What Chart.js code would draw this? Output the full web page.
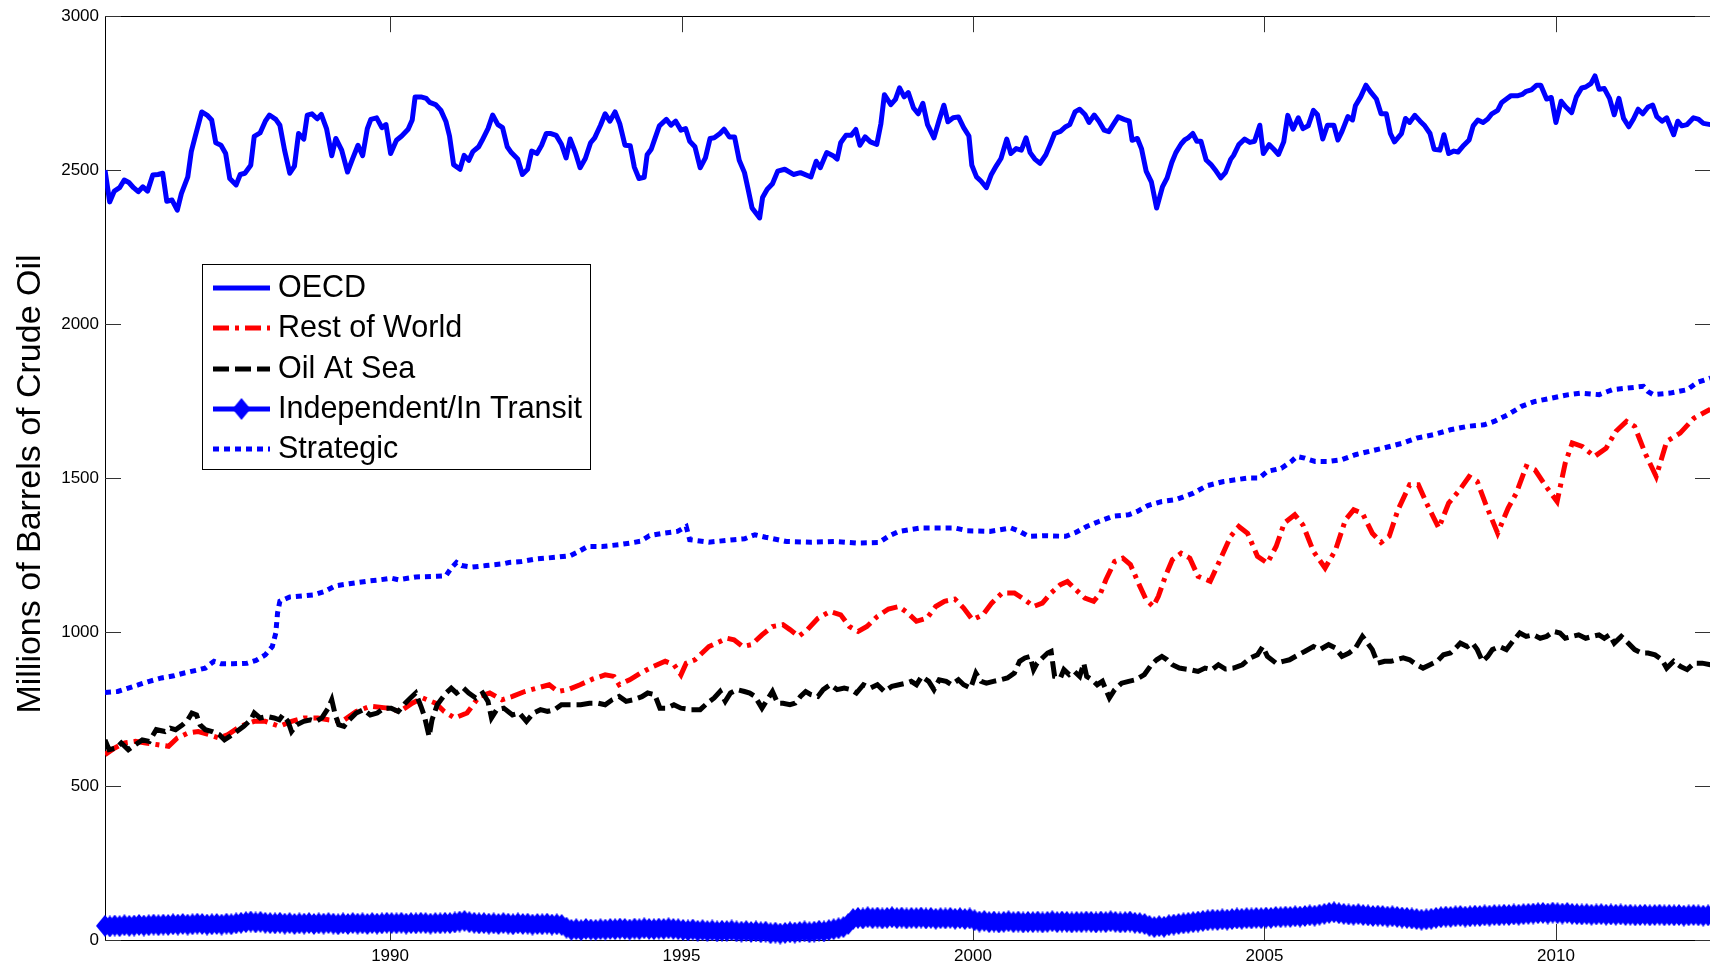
<!DOCTYPE html>
<html>
<head>
<meta charset="utf-8">
<title>Crude oil stocks</title>
<script src="https://cdn.jsdelivr.net/npm/chart.js@4.4.0/dist/chart.umd.min.js"></script>
<style>
  html, body { margin: 0; padding: 0; background: #fff; overflow: hidden; }
  #stocksChart { display: block; }
</style>
</head>
<body>
<canvas id="stocksChart" width="1712" height="969"></canvas>
<script>
const FONT = '"Liberation Sans", Arial, Helvetica, sans-serif';

// axis setup
const yearTicks = [1990, 1995, 2000, 2005, 2010];
const xMin = 1985.11, xMax = 2012.66;
const yMin = 0, yMax = 3000, yStep = 500;
const tickLen = 16;
const yTitle = 'Millions of Barrels of Crude Oil';

// OECD commercial stocks (decimal year, million barrels)
const oecdYears = [
  1985.11,1985.19,1985.27,1985.36,1985.44,1985.52,1985.60,1985.68,1985.76,1985.84,
  1985.93,1986.02,1986.10,1986.17,1986.26,1986.35,1986.42,1986.53,1986.59,1986.66,
  1986.77,1986.86,1986.94,1987.01,1987.10,1987.18,1987.25,1987.36,1987.43,1987.51,
  1987.61,1987.67,1987.77,1987.86,1987.93,1988.04,1988.11,1988.19,1988.28,1988.36,
  1988.43,1988.52,1988.58,1988.66,1988.75,1988.82,1988.91,1989.00,1989.07,1989.17,
  1989.27,1989.36,1989.45,1989.53,1989.61,1989.67,1989.77,1989.86,1989.93,1990.01,
  1990.11,1990.20,1990.31,1990.38,1990.43,1990.53,1990.62,1990.68,1990.78,1990.87,
  1990.96,1991.02,1991.09,1991.20,1991.27,1991.35,1991.42,1991.52,1991.58,1991.68,
  1991.76,1991.85,1991.93,1992.01,1992.08,1992.19,1992.27,1992.36,1992.43,1992.52,
  1992.60,1992.68,1992.76,1992.85,1992.94,1993.02,1993.09,1993.18,1993.26,1993.35,
  1993.44,1993.51,1993.61,1993.69,1993.77,1993.86,1993.94,1994.03,1994.12,1994.19,
  1994.27,1994.36,1994.41,1994.48,1994.54,1994.62,1994.74,1994.82,1994.90,1994.99,
  1995.07,1995.14,1995.23,1995.32,1995.41,1995.49,1995.56,1995.66,1995.73,1995.82,
  1995.91,1995.99,1996.08,1996.14,1996.21,1996.34,1996.39,1996.47,1996.56,1996.65,
  1996.77,1996.92,1997.04,1997.22,1997.31,1997.38,1997.49,1997.60,1997.67,1997.73,
  1997.82,1997.91,1997.99,1998.06,1998.15,1998.24,1998.35,1998.42,1998.48,1998.59,
  1998.67,1998.74,1998.82,1998.89,1998.98,1999.06,1999.14,1999.22,1999.33,1999.42,
  1999.50,1999.57,1999.66,1999.75,1999.84,1999.93,1999.98,2000.06,2000.14,2000.23,
  2000.31,2000.40,2000.48,2000.58,2000.65,2000.74,2000.83,2000.91,2000.98,2001.06,
  2001.15,2001.25,2001.33,2001.40,2001.50,2001.59,2001.66,2001.75,2001.83,2001.92,
  2001.99,2002.08,2002.16,2002.25,2002.33,2002.40,2002.49,2002.59,2002.68,2002.73,
  2002.82,2002.89,2002.97,2003.06,2003.15,2003.25,2003.33,2003.41,2003.48,2003.57,
  2003.63,2003.69,2003.77,2003.84,2003.91,2004.00,2004.08,2004.17,2004.25,2004.33,
  2004.42,2004.47,2004.56,2004.66,2004.75,2004.83,2004.92,2004.98,2005.08,2005.16,
  2005.24,2005.33,2005.40,2005.49,2005.58,2005.66,2005.75,2005.84,2005.91,2006.00,
  2006.08,2006.19,2006.26,2006.33,2006.43,2006.51,2006.56,2006.65,2006.74,2006.82,
  2006.92,2007.00,2007.09,2007.16,2007.23,2007.35,2007.42,2007.49,2007.58,2007.67,
  2007.75,2007.84,2007.91,2008.01,2008.08,2008.16,2008.25,2008.32,2008.42,2008.51,
  2008.58,2008.66,2008.75,2008.83,2008.90,2009.00,2009.07,2009.15,2009.23,2009.35,
  2009.42,2009.49,2009.58,2009.67,2009.74,2009.84,2009.92,2010.00,2010.09,2010.17,
  2010.27,2010.35,2010.44,2010.51,2010.60,2010.67,2010.74,2010.83,2010.92,2011.00,
  2011.08,2011.16,2011.25,2011.33,2011.41,2011.49,2011.58,2011.66,2011.73,2011.82,
  2011.90,2012.02,2012.09,2012.16,2012.25,2012.36,2012.44,2012.53,2012.65
];
const oecdValues = [
  2500,2397,2432,2443,2468,2460,2443,2430,2446,2432,
  2484,2486,2490,2399,2403,2370,2424,2478,2560,2611,
  2689,2679,2663,2589,2581,2554,2473,2452,2486,2490,
  2516,2610,2621,2659,2679,2665,2646,2565,2490,2513,
  2619,2601,2679,2683,2667,2681,2635,2547,2603,2565,
  2494,2538,2581,2547,2635,2665,2670,2638,2648,2554,
  2597,2611,2633,2663,2738,2738,2733,2720,2713,2695,
  2657,2611,2518,2503,2548,2532,2560,2576,2597,2635,
  2679,2648,2638,2576,2557,2536,2486,2503,2562,2554,
  2581,2619,2619,2613,2584,2540,2601,2557,2508,2538,
  2589,2605,2646,2683,2659,2689,2651,2581,2579,2510,
  2473,2477,2550,2568,2601,2644,2665,2646,2659,2630,
  2635,2594,2576,2508,2540,2603,2605,2619,2633,2608,
  2608,2532,2492,2440,2377,2345,2411,2438,2456,2497,
  2503,2486,2492,2478,2529,2508,2557,2547,2536,2589,
  2613,2613,2632,2581,2608,2592,2584,2651,2745,2713,
  2730,2767,2738,2752,2702,2683,2717,2648,2605,2663,
  2711,2657,2670,2673,2638,2611,2516,2478,2464,2443,
  2484,2514,2538,2601,2554,2570,2565,2605,2557,2536,
  2522,2550,2586,2619,2626,2641,2648,2689,2698,2681,
  2655,2679,2659,2630,2625,2646,2673,2665,2659,2597,
  2603,2570,2497,2462,2377,2446,2475,2525,2557,2585,
  2598,2605,2619,2594,2594,2533,2519,2497,2475,2492,
  2535,2548,2583,2601,2590,2594,2646,2554,2583,2568,
  2551,2592,2678,2633,2670,2635,2644,2694,2680,2601,
  2646,2646,2598,2626,2674,2663,2709,2738,2776,2754,
  2731,2683,2683,2619,2592,2619,2668,2655,2678,2659,
  2644,2619,2568,2565,2615,2554,2562,2559,2581,2598,
  2644,2663,2655,2666,2683,2694,2720,2731,2742,2742,
  2746,2756,2761,2776,2776,2731,2736,2655,2724,2705,
  2687,2738,2767,2770,2781,2806,2763,2765,2733,2680,
  2733,2668,2641,2666,2698,2683,2705,2711,2674,2659,
  2670,2615,2659,2644,2648,2670,2666,2652,2648
];

// Rest of World
const worldYears = [
  1985.11,1985.27,1985.45,1985.63,1985.81,1986.02,1986.20,1986.35,1986.53,1986.71,
  1986.89,1987.07,1987.22,1987.43,1987.67,1987.86,1988.10,1988.31,1988.52,1988.76,
  1988.94,1989.18,1989.42,1989.66,1989.96,1990.17,1990.38,1990.56,1990.78,1990.93,
  1991.11,1991.32,1991.53,1991.71,1991.92,1992.10,1992.31,1992.52,1992.73,1992.88,
  1993.05,1993.26,1993.47,1993.69,1993.84,1993.93,1994.11,1994.30,1994.51,1994.72,
  1994.87,1994.99,1995.08,1995.23,1995.47,1995.78,1995.90,1996.05,1996.20,1996.38,
  1996.56,1996.74,1996.86,1997.01,1997.16,1997.34,1997.55,1997.73,1997.88,1998.03,
  1998.18,1998.36,1998.55,1998.73,1998.88,1999.03,1999.21,1999.36,1999.51,1999.69,
  1999.84,1999.99,2000.17,2000.32,2000.50,2000.71,2000.89,2001.04,2001.19,2001.34,
  2001.50,2001.62,2001.77,2001.92,2002.07,2002.19,2002.28,2002.43,2002.57,2002.70,
  2002.85,2002.97,2003.09,2003.18,2003.30,2003.42,2003.57,2003.72,2003.86,2004.07,
  2004.24,2004.42,2004.56,2004.71,2004.88,2005.05,2005.20,2005.34,2005.52,2005.66,
  2005.84,2006.04,2006.22,2006.39,2006.53,2006.68,2006.85,2007.00,2007.14,2007.29,
  2007.49,2007.64,2007.78,2007.99,2008.16,2008.33,2008.51,2008.65,2008.80,2009.00,
  2009.18,2009.32,2009.49,2009.64,2009.81,2010.02,2010.16,2010.28,2010.45,2010.66,
  2010.86,2011.03,2011.21,2011.35,2011.53,2011.72,2011.90,2012.13,2012.37,2012.65
];
const worldValues = [
  602,623,640,645,640,634,629,656,672,677,
  667,656,667,694,710,710,694,710,721,721,
  715,710,742,759,753,742,769,786,769,742,
  721,737,791,802,780,791,807,818,829,807,
  813,829,847,861,856,829,845,867,888,905,
  894,861,899,910,953,980,975,953,959,991,
  1018,1024,1008,986,1008,1045,1067,1056,1018,1002,
  1018,1051,1075,1083,1062,1035,1045,1083,1100,1107,
  1078,1040,1056,1094,1127,1127,1105,1083,1094,1127,
  1154,1164,1137,1110,1100,1127,1170,1229,1240,1219,
  1154,1105,1083,1116,1181,1235,1256,1240,1181,1165,
  1235,1311,1343,1321,1246,1224,1278,1354,1381,1348,
  1262,1208,1267,1365,1397,1386,1321,1291,1311,1397,
  1478,1478,1419,1338,1419,1457,1505,1489,1413,1321,
  1403,1451,1538,1527,1478,1424,1549,1614,1603,1570,
  1597,1652,1684,1668,1581,1505,1619,1646,1695,1724
];

// Oil At Sea
const seaYears = [
  1985.11,1985.18,1985.30,1985.39,1985.51,1985.63,1985.75,1985.87,1985.99,1986.14,
  1986.23,1986.32,1986.44,1986.53,1986.60,1986.68,1986.74,1986.83,1986.95,1987.07,
  1987.16,1987.25,1987.37,1987.49,1987.61,1987.67,1987.77,1987.89,1988.01,1988.10,
  1988.16,1988.25,1988.31,1988.40,1988.52,1988.64,1988.73,1988.83,1988.94,1989.00,
  1989.06,1989.12,1989.21,1989.30,1989.42,1989.54,1989.66,1989.78,1989.90,1990.02,
  1990.14,1990.26,1990.35,1990.44,1990.53,1990.59,1990.67,1990.72,1990.81,1990.96,
  1991.05,1991.14,1991.26,1991.35,1991.47,1991.59,1991.68,1991.74,1991.83,1991.95,
  1992.10,1992.22,1992.34,1992.46,1992.58,1992.70,1992.82,1992.94,1993.09,1993.27,
  1993.42,1993.57,1993.69,1993.81,1993.93,1994.05,1994.17,1994.32,1994.42,1994.54,
  1994.63,1994.75,1994.87,1994.99,1995.17,1995.32,1995.44,1995.56,1995.66,1995.75,
  1995.84,1995.96,1996.08,1996.17,1996.26,1996.38,1996.47,1996.56,1996.65,1996.74,
  1996.86,1996.95,1997.04,1997.13,1997.22,1997.34,1997.43,1997.55,1997.67,1997.79,
  1997.91,1998.00,1998.12,1998.24,1998.36,1998.48,1998.61,1998.73,1998.85,1998.94,
  1999.03,1999.12,1999.24,1999.33,1999.42,1999.54,1999.63,1999.75,1999.84,1999.96,
  2000.05,2000.14,2000.23,2000.35,2000.47,2000.59,2000.71,2000.80,2000.89,2000.98,
  2001.04,2001.10,2001.19,2001.28,2001.34,2001.40,2001.50,2001.56,2001.65,2001.74,
  2001.83,2001.90,2001.95,2002.04,2002.13,2002.22,2002.34,2002.43,2002.55,2002.67,
  2002.79,2002.94,2003.06,2003.15,2003.24,2003.33,2003.42,2003.54,2003.72,2003.86,
  2003.98,2004.10,2004.21,2004.33,2004.47,2004.62,2004.76,2004.88,2004.97,2005.05,
  2005.20,2005.32,2005.43,2005.58,2005.69,2005.84,2005.95,2006.10,2006.22,2006.33,
  2006.45,2006.56,2006.68,2006.77,2006.85,2006.94,2007.06,2007.17,2007.26,2007.38,
  2007.49,2007.61,2007.72,2007.84,2007.96,2008.07,2008.19,2008.28,2008.36,2008.48,
  2008.57,2008.65,2008.74,2008.83,2008.91,2009.03,2009.15,2009.26,2009.38,2009.49,
  2009.61,2009.73,2009.84,2009.96,2010.07,2010.16,2010.28,2010.39,2010.51,2010.63,
  2010.74,2010.83,2010.92,2011.00,2011.12,2011.24,2011.35,2011.47,2011.58,2011.70,
  2011.82,2011.90,2012.02,2012.14,2012.25,2012.37,2012.51,2012.65
];
const seaValues = [
  650,618,623,640,618,634,650,645,683,677,
  688,683,699,715,737,731,699,683,677,667,
  650,661,677,694,715,737,721,726,721,715,
  731,710,677,699,710,715,710,721,753,780,
  731,699,694,715,737,748,731,737,753,753,
  742,769,786,802,759,726,661,715,764,802,
  818,802,818,802,786,802,775,721,748,753,
  731,737,710,737,748,742,748,764,764,764,
  769,769,764,780,791,775,780,790,802,797,
  753,753,764,753,748,748,769,786,807,775,
  802,813,807,802,791,753,780,807,769,769,
  764,769,791,807,797,791,813,829,813,818,
  813,802,829,818,829,807,824,829,834,840,
  829,856,840,813,845,840,829,845,829,818,
  867,840,834,840,845,851,867,905,916,921,
  878,899,916,932,937,856,851,878,862,872,
  856,899,856,845,829,840,786,813,834,840,
  845,862,894,910,921,910,894,883,878,872,
  883,878,894,880,883,894,916,926,953,921,
  899,905,910,926,937,953,943,959,948,921,
  932,948,986,964,943,899,905,905,910,916,
  910,894,883,894,905,926,932,948,964,953,
  964,943,905,921,943,953,943,970,997,986,
  991,980,986,1002,997,980,986,991,980,986,
  991,980,991,964,986,964,943,932,932,926,
  910,883,905,888,878,899,899,894
];

// Independent / In Transit: one value per month from Feb 1985
const transitStart = 1985.11;
const transitValues = [
  46,44,47,45,48,46,47,49,47,48,50,              // 1985
  48,50,49,51,50,52,50,51,53,52,50,51,           // 1986
  52,50,53,51,54,56,58,60,57,59,56,55,           // 1987
  54,56,53,55,52,54,53,55,52,54,53,55,           // 1988
  53,51,54,52,55,53,54,52,55,53,54,56,           // 1989
  55,54,56,53,55,54,56,55,53,55,54,56,           // 1990
  55,57,60,62,58,56,54,55,53,54,52,55,           // 1991
  53,51,54,52,53,50,52,51,53,50,51,49,           // 1992
  40,33,35,32,36,34,33,35,34,36,35,37,           // 1993
  36,34,37,35,38,36,35,37,36,38,36,35,           // 1994
  33,31,34,30,32,29,31,28,30,29,31,28,           // 1995
  27,29,26,28,25,27,22,24,21,23,25,24,           // 1996
  26,28,25,27,30,28,32,35,38,42,52,68,           // 1997
  72,70,74,71,73,70,72,74,71,73,70,72,           // 1998
  71,73,70,72,69,71,70,72,69,71,68,70,           // 1999
  64,60,62,58,60,57,59,61,58,60,57,59,           // 2000
  58,60,57,59,61,58,60,59,57,59,58,60,           // 2001
  59,57,60,58,61,59,57,58,60,56,55,52,           // 2002
  46,42,45,43,48,50,52,54,56,58,60,62,           // 2003
  64,66,65,67,66,68,70,69,71,70,72,71,           // 2004
  73,72,75,74,76,75,77,76,78,80,79,82,           // 2005
  85,88,90,87,85,83,82,84,81,80,78,79,           // 2006
  78,76,77,75,73,72,70,68,66,67,69,72,           // 2007
  74,76,75,77,78,76,77,79,78,80,79,81,           // 2008
  80,82,81,83,82,84,85,86,87,88,86,89,           // 2009
  87,86,88,85,84,83,84,82,83,84,82,83,           // 2010
  82,83,81,82,80,81,82,80,81,82,80,81,           // 2011
  80,81,79,80,81,80,79,80,81                     // 2012
];

// Strategic stocks
const strategicYears = [
  1985.11,1985.33,1985.51,1985.69,1985.87,1986.08,1986.29,1986.47,1986.68,1986.83,
  1986.98,1987.10,1987.31,1987.55,1987.70,1987.86,1987.98,1988.04,1988.07,1988.11,
  1988.28,1988.52,1988.70,1988.88,1989.06,1989.30,1989.60,1989.84,1990.02,1990.14,
  1990.44,1990.81,1990.96,1991.05,1991.14,1991.23,1991.41,1991.65,1991.95,1992.04,
  1992.25,1992.49,1992.85,1993.09,1993.21,1993.39,1993.64,1993.94,1994.12,1994.30,
  1994.45,1994.69,1994.93,1995.08,1995.14,1995.47,1995.90,1996.08,1996.26,1996.44,
  1996.80,1997.22,1997.64,1998.00,1998.39,1998.55,1998.73,1999.09,1999.51,1999.69,
  1999.90,2000.29,2000.65,2000.80,2000.95,2001.19,2001.59,2001.77,2001.95,2002.16,
  2002.40,2002.67,2002.82,2003.00,2003.24,2003.48,2003.78,2004.01,2004.30,2004.71,
  2004.91,2005.05,2005.29,2005.46,2005.55,2005.69,2005.87,2006.10,2006.33,2006.56,
  2006.80,2007.03,2007.38,2007.61,2007.90,2008.19,2008.48,2008.77,2008.94,2009.18,
  2009.41,2009.64,2009.93,2010.22,2010.42,2010.74,2010.97,2011.21,2011.50,2011.58,
  2011.67,2011.96,2012.25,2012.43,2012.65
];
const strategicValues = [
  804,807,818,829,840,851,858,867,876,883,
  905,897,897,899,908,926,953,997,1062,1100,
  1114,1118,1121,1132,1150,1157,1165,1170,1175,1170,
  1179,1181,1183,1208,1226,1216,1211,1216,1222,1226,
  1229,1237,1243,1248,1259,1278,1278,1284,1289,1295,
  1313,1321,1327,1343,1300,1292,1300,1303,1316,1308,
  1294,1292,1294,1289,1291,1311,1327,1338,1338,1338,
  1329,1327,1338,1327,1311,1313,1311,1324,1343,1359,
  1376,1381,1392,1411,1424,1430,1451,1475,1489,1500,
  1500,1522,1532,1554,1570,1565,1554,1554,1560,1576,
  1587,1597,1614,1630,1641,1657,1668,1673,1684,1706,
  1733,1749,1760,1771,1776,1771,1787,1792,1798,1781,
  1771,1776,1787,1811,1825
];

function toPoints(xs, ys) {
  return xs.map((x, i) => ({ x: x, y: ys[i] }));
}
const transitPoints = transitValues.map((v, i) => ({ x: transitStart + i / 12, y: v }));

// filled diamond marker, a bit taller than wide
const diamond = document.createElement('canvas');
diamond.width = 18;
diamond.height = 22;
(function () {
  const d = diamond.getContext('2d');
  d.fillStyle = '#0000ff';
  d.beginPath();
  d.moveTo(9, 0);
  d.lineTo(18, 11);
  d.lineTo(9, 22);
  d.lineTo(0, 11);
  d.closePath();
  d.fill();
})();

// box, inward ticks, y label and the legend
const matlabAxes = {
  id: 'matlabAxes',
  beforeDatasetsDraw(chart) {
    const { ctx, chartArea: a } = chart;
    const xs = chart.scales.x, ys = chart.scales.y;
    ctx.save();
    ctx.strokeStyle = '#000';
    ctx.lineWidth = 1;
    ctx.strokeRect(Math.round(a.left) + 0.5, Math.round(a.top) + 0.5,
      Math.round(a.right - a.left), Math.round(a.bottom - a.top));
    ctx.strokeStyle = '#333';
    ctx.beginPath();
    yearTicks.forEach(v => {
      const px = Math.round(xs.getPixelForValue(v)) + 0.5;
      ctx.moveTo(px, a.bottom); ctx.lineTo(px, a.bottom - tickLen);
      ctx.moveTo(px, a.top); ctx.lineTo(px, a.top + tickLen);
    });
    for (let v = yMin; v <= yMax; v += yStep) {
      const py = Math.round(ys.getPixelForValue(v)) + 0.5;
      ctx.moveTo(a.left, py); ctx.lineTo(a.left + tickLen, py);
      ctx.moveTo(a.right, py); ctx.lineTo(a.right - tickLen, py);
    }
    ctx.stroke();

    // y axis label, rotated
    ctx.translate(31, 484);
    ctx.rotate(-Math.PI / 2);
    ctx.fillStyle = '#000';
    ctx.font = '34px ' + FONT;
    ctx.textAlign = 'center';
    ctx.textBaseline = 'middle';
    ctx.fillText(yTitle, 0, 0);
    ctx.restore();
  },
  afterDatasetsDraw(chart) {
    const ctx = chart.ctx;
    const box = { x: 202, y: 264, w: 388, h: 205 };
    ctx.save();
    ctx.fillStyle = '#fff';
    ctx.fillRect(box.x, box.y, box.w, box.h);
    ctx.strokeStyle = '#000';
    ctx.lineWidth = 1;
    ctx.strokeRect(box.x + 0.5, box.y + 0.5, box.w, box.h);
    chart.data.datasets.forEach((ds, i) => {
      const y = Math.round(288 + i * 40.3);
      ctx.strokeStyle = ds.borderColor;
      ctx.lineWidth = ds.borderWidth;
      ctx.lineCap = 'butt';
      ctx.setLineDash(ds.borderDash || []);
      ctx.beginPath();
      ctx.moveTo(213, y);
      ctx.lineTo(270, y);
      ctx.stroke();
      ctx.setLineDash([]);
      if (ds.pointStyle === diamond) {
        ctx.drawImage(diamond, 241.5 - diamond.width / 2, y - diamond.height / 2);
      }
      ctx.fillStyle = '#000';
      ctx.font = '30.5px ' + FONT;
      ctx.textBaseline = 'middle';
      ctx.textAlign = 'left';
      ctx.fillText(ds.label, 278, y + 1);
    });
    ctx.restore();
  }
};

const stocksChart = new Chart(document.getElementById('stocksChart'), {
  type: 'line',
  data: {
    datasets: [
      {
        label: 'OECD',
        data: toPoints(oecdYears, oecdValues),
        borderColor: '#0000ff',
        borderWidth: 5,
        borderJoinStyle: 'round',
        pointRadius: 0,
        order: 5
      },
      {
        label: 'Rest of World',
        data: toPoints(worldYears, worldValues),
        borderColor: '#ff0000',
        borderWidth: 5,
        borderDash: [16, 6, 4, 6],
        pointRadius: 0,
        order: 4
      },
      {
        label: 'Oil At Sea',
        data: toPoints(seaYears, seaValues),
        borderColor: '#000000',
        borderWidth: 5,
        borderDash: [16, 6],
        pointRadius: 0,
        order: 3
      },
      {
        label: 'Independent/In Transit',
        data: transitPoints,
        borderColor: '#0000ff',
        borderWidth: 5,
        pointStyle: diamond,
        pointRadius: 10,
        pointBorderWidth: 0,
        clip: false,
        order: 2
      },
      {
        label: 'Strategic',
        data: toPoints(strategicYears, strategicValues),
        borderColor: '#0000ff',
        borderWidth: 5,
        borderDash: [6, 5],
        pointRadius: 0,
        order: 1
      }
    ]
  },
  options: {
    responsive: false,
    animation: false,
    events: [],
    layout: { autoPadding: false, padding: { top: 15, right: 1, left: 0, bottom: 0 } },
    plugins: {
      legend: { display: false },
      tooltip: { enabled: false }
    },
    scales: {
      x: {
        type: 'linear',
        min: xMin,
        max: xMax,
        grid: { display: false, drawTicks: false },
        border: { display: false },
        afterBuildTicks: scale => { scale.ticks = yearTicks.map(v => ({ value: v })); },
        afterFit: scale => { scale.height = 29; },
        ticks: {
          padding: 6,
          color: '#000',
          font: { family: FONT, size: 17 },
          maxRotation: 0,
          callback: v => String(v)
        }
      },
      y: {
        min: yMin,
        max: yMax,
        grid: { display: false, drawTicks: false },
        border: { display: false },
        afterFit: scale => { scale.width = 105; },
        ticks: {
          stepSize: yStep,
          padding: 6,
          color: '#000',
          font: { family: FONT, size: 17 },
          callback: v => String(v)
        }
      }
    }
  },
  plugins: [matlabAxes]
});
</script>
</body>
</html>
